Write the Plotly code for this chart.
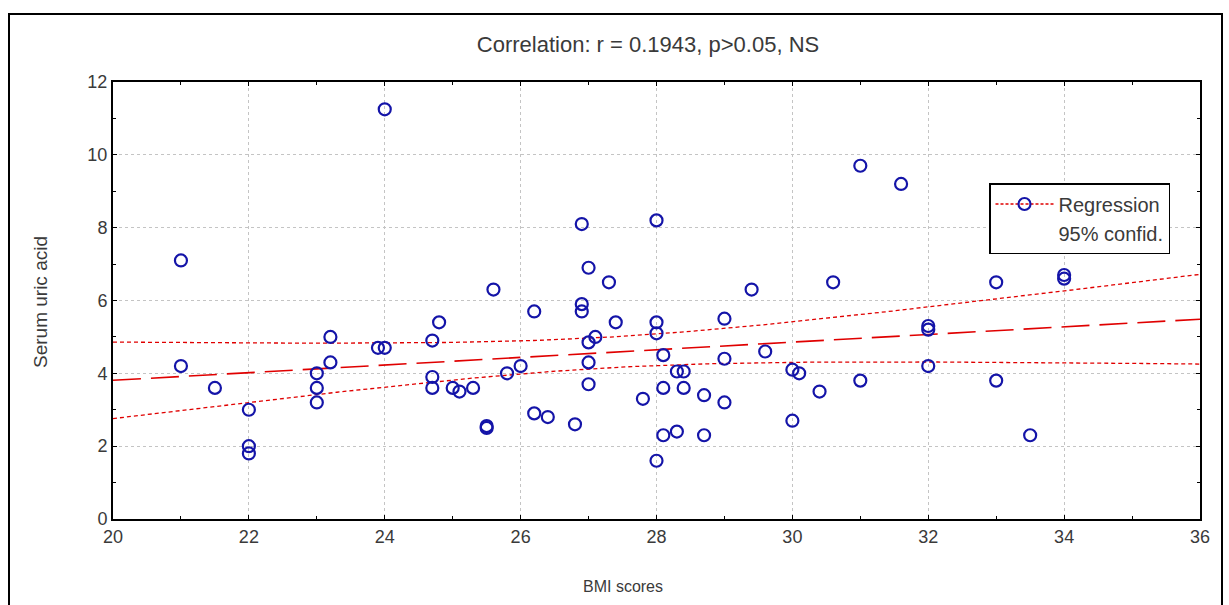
import numpy as np
import plotly.graph_objects as go

bmi = [21.0, 21.0, 21.5, 22.0, 22.0, 22.0, 23.0, 23.0, 23.0, 23.2, 23.2, 23.9, 24.0, 24.0,
       24.7, 24.7, 24.7, 24.8, 25.0, 25.1, 25.3, 25.5, 25.5, 25.6, 25.8, 26.0, 26.2, 26.2,
       26.4, 26.8, 26.9, 26.9, 26.9, 27.0, 27.0, 27.0, 27.0, 27.1, 27.3, 27.4, 27.8, 28.0,
       28.0, 28.0, 28.0, 28.1, 28.1, 28.1, 28.3, 28.3, 28.4, 28.4, 28.7, 28.7, 29.0, 29.0,
       29.0, 29.4, 29.6, 30.0, 30.0, 30.1, 30.4, 30.6, 31.0, 31.0, 31.6, 32.0, 32.0, 32.0,
       33.0, 33.0, 33.5, 34.0, 34.0]
uric = [7.1, 4.2, 3.6, 3.0, 2.0, 1.8, 4.0, 3.6, 3.2, 5.0, 4.3, 4.7, 4.7, 11.25,
        4.9, 3.9, 3.6, 5.4, 3.6, 3.5, 3.6, 2.55, 2.5, 6.3, 4.0, 4.2, 5.7, 2.9,
        2.8, 2.6, 8.1, 5.9, 5.7, 6.9, 4.85, 4.3, 3.7, 5.0, 6.5, 5.4, 3.3, 8.2,
        5.4, 5.1, 1.6, 4.5, 3.6, 2.3, 4.05, 2.4, 4.05, 3.6, 3.4, 2.3, 5.5, 4.4,
        3.2, 6.3, 4.6, 4.1, 2.7, 4.0, 3.5, 6.5, 9.7, 3.8, 9.2, 5.3, 5.2, 4.2,
        6.5, 3.8, 2.3, 6.7, 6.6]

x_ticks = [20, 22, 24, 26, 28, 30, 32, 34, 36]
y_ticks = [0, 2, 4, 6, 8, 10, 12]
title_text = "Correlation: r = 0.1943, p>0.05, NS"
x_title = "BMI scores"
y_title = "Serum uric acid"

# regression and 95% confidence band of the mean, derived from the data
xa = np.array(bmi)
ya = np.array(uric)
n = len(xa)
b, a = np.polyfit(xa, ya, 1)
xg = np.linspace(20, 36, 200)
fit = a + b * xg
resid = ya - (a + b * xa)
s = np.sqrt(np.sum(resid ** 2) / (n - 2))
sxx = np.sum((xa - xa.mean()) ** 2)
half = 1.993 * s * np.sqrt(1.0 / n + (xg - xa.mean()) ** 2 / sxx)

RED = "#e00000"
BLUE = "#1414a8"
TXT = "#3a3a3a"
FONT = "Liberation Sans, Arial, sans-serif"

# plot-area geometry (pixels)
L, R, T, B = 113, 29, 82, 86
W, H = 1229, 605
pw, ph = W - L - R, H - T - B


def px_to_paper_x(px):
    return (px - L) / pw


def px_to_paper_y(py):
    return (H - B - py) / ph


fig = go.Figure()
fig.add_trace(go.Scatter(x=xg, y=fit + half, mode="lines", showlegend=False,
                         line=dict(color=RED, width=1.3, dash="4px,3px"), hoverinfo="skip"))
fig.add_trace(go.Scatter(x=xg, y=fit - half, mode="lines", showlegend=False,
                         line=dict(color=RED, width=1.3, dash="4px,3px"), hoverinfo="skip"))
fig.add_trace(go.Scatter(x=xg, y=fit, mode="lines", showlegend=False,
                         line=dict(color=RED, width=1.6, dash="28px,10px"), hoverinfo="skip"))
fig.add_trace(go.Scatter(x=bmi, y=uric, mode="markers", showlegend=False,
                         marker=dict(symbol="circle-open", size=12, color=BLUE,
                                     line=dict(color=BLUE, width=2.2))))
# legend entries
fig.add_trace(go.Scatter(x=[None], y=[None], mode="lines+markers", name="Regression",
                         marker=dict(symbol="circle-open", size=12, color=BLUE,
                                     line=dict(color=BLUE, width=2.2)),
                         line=dict(color=RED, width=1.3, dash="3px,2px")))
fig.add_trace(go.Scatter(x=[None], y=[None], mode="lines", name="95% confid.",
                         line=dict(color="rgba(0,0,0,0)", width=1)))

axis_common = dict(
    showline=True, linecolor="black", linewidth=2, mirror="allticks",
    ticks="inside", ticklen=4, tickcolor="black",
    showgrid=True, gridcolor="#c4c4c4", gridwidth=1, griddash="3px,3px",
    zeroline=False,
    tickfont=dict(family=FONT, size=18, color=TXT),
)

fig.update_xaxes(range=[20, 36], tickvals=x_ticks, ticktext=[str(v) for v in x_ticks],
                 minor=dict(dtick=1, ticks="inside", ticklen=3, tickcolor="black", showgrid=False),
                 **axis_common)
fig.update_yaxes(range=[0, 12], tickvals=y_ticks, ticktext=[str(v) for v in y_ticks],
                 minor=dict(dtick=1, ticks="inside", ticklen=3, tickcolor="black", showgrid=False),
                 **axis_common)

fig.update_layout(
    width=W, height=H,
    margin=dict(l=L, r=R, t=T, b=B),
    paper_bgcolor="white", plot_bgcolor="white",
    title=dict(text=title_text, x=648 / W, xanchor="center",
               y=1 - 44 / H, yanchor="middle",
               font=dict(family=FONT, size=22, color=TXT)),
    legend=dict(x=px_to_paper_x(989), y=px_to_paper_y(183), xanchor="left", yanchor="top",
                bgcolor="white", bordercolor="black", borderwidth=1.5,
                font=dict(family=FONT, size=20, color=TXT),
                itemwidth=58, tracegroupgap=0),
    annotations=[
        dict(text=x_title, xref="paper", yref="paper",
             x=px_to_paper_x(623), y=px_to_paper_y(586), xanchor="center", yanchor="middle",
             showarrow=False, font=dict(family=FONT, size=16, color=TXT)),
        dict(text=y_title, xref="paper", yref="paper", textangle=-90,
             x=px_to_paper_x(40), y=px_to_paper_y(302), xanchor="center", yanchor="middle",
             showarrow=False, font=dict(family=FONT, size=19, color=TXT)),
    ],
    shapes=[dict(type="rect", xref="paper", yref="paper",
                 x0=px_to_paper_x(9), x1=px_to_paper_x(1222),
                 y0=px_to_paper_y(640), y1=px_to_paper_y(14),
                 line=dict(color="black", width=2))],
)

fig.write_html("out.html")
